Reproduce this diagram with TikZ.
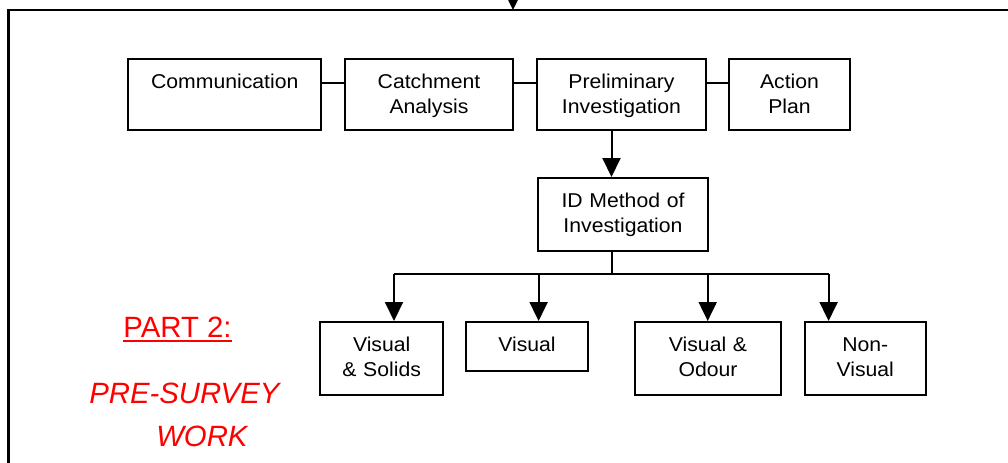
\documentclass[tikz,border=0pt]{standalone}
\usepackage{fontspec}
\setmainfont{Liberation Sans}
\newfontfamily\boxfont[FakeStretch=1.06]{Liberation Sans}
\usetikzlibrary{arrows.meta,calc}
\begin{document}
\begin{tikzpicture}[x=0.75pt,y=-0.75pt,
  stepbox/.style={draw, line width=1.5pt, inner sep=0pt},
  boxtext/.style={font=\boxfont\fontsize{15}{18.75}\selectfont, align=center, anchor=base, inner sep=0pt, text width=150pt},
  link/.style={line width=1.5pt},
  arr/.style={line width=1.5pt, -{Triangle[width=13.5pt,length=14.25pt]}},
  redtext/.style={font=\fontsize{22}{26}\selectfont, text=red, inner sep=0pt}]
\useasboundingbox (0,0) rectangle (1008,462);
\clip (0,0) rectangle (1008,462);

% outer frame
\coordinate (frameTR) at (1030,10);
\coordinate (frameTL) at (8.5,10);
\coordinate (frameBL) at (8.5,490);
\draw[line width=1.6pt] (frameTR) -- (frameTL) -- (frameBL);
\coordinate (topin) at (513,-30);
\coordinate (topend) at (513,10);
\draw[arr] (topin) -- (topend);

% top row
\node[stepbox, minimum width=144.4pt, minimum height=53.25pt] (comm) at (224.75,94.5) {};
\node[stepbox, minimum width=126pt, minimum height=53.25pt] (catch) at (429,94.5) {};
\node[stepbox, minimum width=126.75pt, minimum height=53.25pt] (prelim) at (621.5,94.5) {};
\node[stepbox, minimum width=90.75pt, minimum height=53.25pt] (action) at (789.5,94.5) {};

\node[boxtext] (commT) at ($(comm.north)+(0,30.5)$) {Communication};
\node[boxtext] (catchT) at ($(catch.north)+(0,30.5)$) {Catchment\\Analysis};
\node[boxtext] (prelimT) at ($(prelim.north)+(0,30.5)$) {Preliminary\\Investigation};
\node[boxtext] (actionT) at ($(action.north)+(0,30.5)$) {Action\\Plan};

\coordinate (rowline) at (0,83);
\draw[link] (comm.east |- rowline) -- (catch.west |- rowline);
\draw[link] (catch.east |- rowline) -- (prelim.west |- rowline);
\draw[link] (prelim.east |- rowline) -- (action.west |- rowline);

% ID box
\node[stepbox, minimum width=127.5pt, minimum height=54.75pt] (idm) at (623,214.5) {};
\node[boxtext] (idmT) at ($(idm.north)+(0,30.5)$) {ID Method of\\Investigation};
\coordinate (trunk) at (611.5,274);
\draw[arr] (prelim.south -| trunk) -- (idm.north -| trunk);

% bottom row
\node[stepbox, minimum width=92pt, minimum height=54.75pt] (vs) at (381.7,358.5) {};
\node[stepbox, minimum width=91.5pt, minimum height=36.75pt] (vis) at (527,346.5) {};
\node[stepbox, minimum width=109.5pt, minimum height=54.75pt] (vo) at (708,358.5) {};
\node[stepbox, minimum width=91.1pt, minimum height=54.75pt] (nv) at (865.25,358.5) {};

\node[boxtext] (vsT) at ($(vs.north)+(0,30.5)$) {Visual\\\& Solids};
\node[boxtext] (visT) at ($(vis.north)+(0,30.5)$) {Visual};
\node[boxtext] (voT) at ($(vo.north)+(0,30.5)$) {Visual \&\\Odour};
\node[boxtext] (nvT) at ($(nv.north)+(0,30.5)$) {Non-\\Visual};

\coordinate (b1) at (394,274);
\coordinate (b2) at (538.6,274);
\coordinate (b3) at (707.7,274);
\coordinate (b4) at (828.6,274);
\draw[link] (idm.south -| trunk) -- (trunk);
\draw[link] (b1) -- (b4);
\draw[arr] (b1) -- (vs.north -| b1);
\draw[arr] (b2) -- (vis.north -| b2);
\draw[arr] (b3) -- (vo.north -| b3);
\draw[arr] (b4) -- (nv.north -| b4);

% red labels
\node[redtext, anchor=base] (part) at (177.5,337) {PART 2:};
\draw[red, line width=1.7pt] ($(part.base west)+(0,3.8)$) -- ($(part.base east)+(0,3.8)$);
\node[redtext, anchor=base west, font=\fontsize{22}{26}\selectfont\itshape] (pre) at (89,403) {PRE-SURVEY};
\node[redtext, anchor=base west, font=\fontsize{22}{26}\selectfont\itshape] (work) at (156,446) {WORK};
\end{tikzpicture}
\end{document}
